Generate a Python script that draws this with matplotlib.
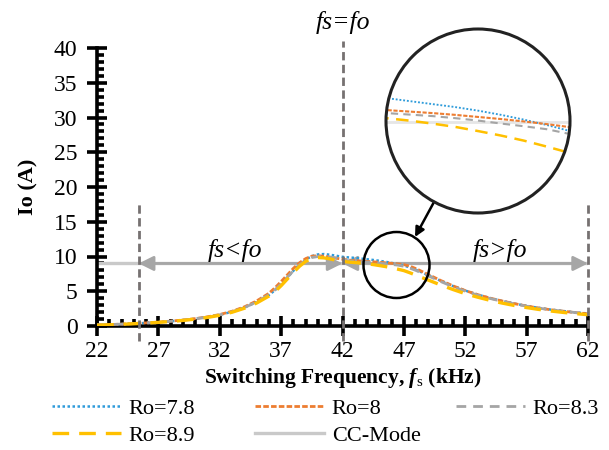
import matplotlib
matplotlib.use("Agg")
import matplotlib.pyplot as plt
from matplotlib.patches import Circle
from matplotlib.lines import Line2D
from matplotlib.ticker import MultipleLocator

plt.rcParams["font.family"] = ["Liberation Serif", "DejaVu Serif"]
plt.rcParams["mathtext.fontset"] = "custom"
plt.rcParams["mathtext.rm"] = "Liberation Serif"
plt.rcParams["mathtext.it"] = "Liberation Serif:italic"
plt.rcParams["mathtext.bf"] = "Liberation Serif:bold"
plt.rcParams["mathtext.bfit"] = "Liberation Serif:italic:bold"

# Switching frequency (kHz)
freq = [22, 23, 24, 25, 26, 27, 28, 29, 30, 31, 32, 33, 34, 35,
        36, 36.5, 37, 37.5, 38, 38.5, 39, 39.5, 40, 40.5, 41, 41.5,
        42, 42.5, 43, 43.5, 44, 44.5, 45, 45.5, 46, 46.5, 47, 47.5, 48,
        49, 50, 51, 52, 53, 54, 55, 56, 57, 58, 59, 60, 61, 62]

# Output current Io (A) for each load resistance
io_ro78 = [0.15, 0.2, 0.27, 0.35, 0.44, 0.55, 0.68, 0.84, 1.03, 1.28, 1.6, 2.05, 2.65, 3.45,
           4.45, 5.15, 6.0, 6.95, 7.95, 8.85, 9.55, 10.05, 10.3, 10.35, 10.25, 10.1,
           9.95, 9.87, 9.8, 9.7, 9.6, 9.5, 9.38, 9.24, 9.08, 8.9, 8.7, 8.42, 8.08,
           7.3, 6.5, 5.75, 5.1, 4.52, 4.03, 3.6, 3.22, 2.9, 2.6, 2.35, 2.15, 1.95, 1.8]
io_ro8 = [0.15, 0.2, 0.27, 0.35, 0.45, 0.56, 0.7, 0.86, 1.06, 1.32, 1.65, 2.12, 2.75, 3.6,
          4.7, 5.5, 6.4, 7.35, 8.3, 9.1, 9.7, 10.05, 10.1, 10.05, 9.9, 9.75,
          9.6, 9.5, 9.4, 9.35, 9.3, 9.24, 9.17, 9.1, 9.02, 8.93, 8.83, 8.6, 8.25,
          7.4, 6.55, 5.78, 5.1, 4.52, 4.02, 3.6, 3.22, 2.88, 2.58, 2.33, 2.12, 1.92, 1.75]
io_ro83 = [0.15, 0.2, 0.27, 0.35, 0.44, 0.55, 0.68, 0.84, 1.03, 1.28, 1.6, 2.05, 2.65, 3.45,
           4.5, 5.2, 6.05, 7.0, 7.95, 8.8, 9.45, 9.85, 10.0, 9.98, 9.9, 9.78,
           9.5, 9.4, 9.3, 9.25, 9.2, 9.13, 9.05, 8.95, 8.86, 8.76, 8.6, 8.32, 7.98,
           7.2, 6.4, 5.65, 5.0, 4.45, 3.97, 3.55, 3.18, 2.85, 2.57, 2.32, 2.12, 1.93, 1.77]
io_ro89 = [0.12, 0.17, 0.24, 0.32, 0.41, 0.52, 0.65, 0.8, 0.99, 1.23, 1.54, 1.98, 2.55, 3.3,
           4.3, 4.95, 5.8, 6.75, 7.7, 8.6, 9.3, 9.7, 9.85, 9.8, 9.65, 9.45,
           9.3, 9.2, 9.13, 9.05, 8.95, 8.84, 8.7, 8.55, 8.38, 8.18, 7.97, 7.65, 7.3,
           6.6, 5.9, 5.25, 4.65, 4.15, 3.7, 3.3, 2.95, 2.65, 2.38, 2.15, 1.95, 1.78, 1.62]

cc_level = 9.0          # constant-current mode reference (A)
f_res = 42              # resonant frequency fo (kHz)
f_low = 25.4            # lower bound of the operating range (kHz)
f_high = 62             # upper bound of the operating range (kHz)

labels = ["Ro=7.8", "Ro=8", "Ro=8.3", "Ro=8.9", "CC-Mode"]
series = [io_ro78, io_ro8, io_ro83, io_ro89]
styles = [
    dict(color="#2E9BDA", lw=1.8, dashes=(1.0, 1.0)),
    dict(color="#ED7D31", lw=2.0, dashes=(2.0, 0.8)),
    dict(color="#A5A5A5", lw=2.0, dashes=(3.5, 2.5)),
    dict(color="#FFC000", lw=2.4, dashes=(5.0, 3.0)),
]
cc_style = dict(color="#C9C9C9", lw=2.4)
vline_color = "#767171"
arrow_color = "#A6A6A6"

W, H = 609, 450
fig = plt.figure(figsize=(W / 100, H / 100), dpi=100)
ax = fig.add_axes([97 / W, 1 - 326 / H, (588 - 97) / W, (326 - 48) / H])

# CC-mode reference line
ax.plot([freq[0], freq[-1]], [cc_level, cc_level], zorder=2, **cc_style)

# Operating region arrows
arrow_kw = dict(arrowstyle="<|-|>", color=arrow_color, lw=2.0,
                mutation_scale=22, shrinkA=0, shrinkB=0)
ax.annotate("", xy=(f_low, cc_level), xytext=(f_res, cc_level),
            arrowprops=arrow_kw, zorder=3)
ax.annotate("", xy=(f_high, cc_level), xytext=(f_res, cc_level),
            arrowprops=arrow_kw, zorder=3)

# Current curves
for y, st in zip(series, styles):
    ax.plot(freq, y, zorder=4, **st)

# Boundary / resonance markers
vkw = dict(color=vline_color, lw=2.0, dashes=(3.0, 1.6), clip_on=False, zorder=5)
ax.plot([f_low, f_low], [-2.2, 17.7], **vkw)
ax.plot([f_high, f_high], [-2.2, 17.7], **vkw)
ax.plot([f_res, f_res], [-2.2, 41.0], **vkw)

ax.text(f_res, 43.6, "fs=fo", style="italic", fontsize=18.5, ha="center", va="center",
        clip_on=False)
ax.text(33.2, 10.8, "fs<fo", style="italic", fontsize=18.5, ha="center", va="center")
ax.text(54.8, 10.8, "fs>fo", style="italic", fontsize=18.5, ha="center", va="center")

ax.set_xlim(22, 62)
ax.set_ylim(0, 40)
ax.set_xticks(range(22, 63, 5))
ax.set_yticks(range(0, 41, 5))
ax.xaxis.set_minor_locator(MultipleLocator(1))
ax.yaxis.set_minor_locator(MultipleLocator(1))
ax.tick_params(which="major", direction="inout", length=14, width=2.6,
               labelsize=17)
ax.tick_params(axis="x", which="major", pad=4)
ax.tick_params(axis="y", which="major", pad=7)
ax.tick_params(which="minor", direction="in", length=5, width=2.6)
for side in ("top", "right"):
    ax.spines[side].set_visible(False)
for side in ("left", "bottom"):
    ax.spines[side].set_linewidth(2.6)
ax.set_ylabel("Io (A)", fontsize=16, fontweight="bold", labelpad=11)
ax.set_xlabel(r"Switching Frequency, $\mathbfit{f}_{\mathrm{s}}$ (kHz)",
              fontsize=15.5, fontweight="bold", labelpad=3)

# Magnified view of the region just above resonance
circ_r = 33 / 100
small = Circle((396.5 / 100, (H - 265) / 100), circ_r, transform=fig.dpi_scale_trans,
               fill=False, lw=1.8, color="black", zorder=10)
fig.add_artist(small)
big_cx, big_cy, big_r = 478, 121, 92
ax_in = fig.add_axes([(big_cx - big_r) / W, (H - big_cy - big_r) / H,
                      2 * big_r / W, 2 * big_r / H])
ax_in.set_xlim(43, 47)
ax_in.set_ylim(5.97, 12.1)
ax_in.axis("off")
clip = Circle((0.5, 0.5), 0.5, transform=ax_in.transAxes)
ln = ax_in.plot([freq[0], freq[-1]], [cc_level, cc_level], color="#E6E6E6", lw=2.0)[0]
ln.set_clip_path(clip)
for y, st in zip(series, styles):
    st2 = dict(st)
    st2["lw"] = st["lw"] * 0.75
    ln = ax_in.plot(freq, y, **st2)[0]
    ln.set_clip_path(clip)
big = Circle((big_cx / 100, (H - big_cy) / 100), big_r / 100, transform=fig.dpi_scale_trans,
             fill=False, lw=2.2, color="#222222", zorder=10)
fig.add_artist(big)
ax.annotate("", xy=(415 / W, 1 - 237 / H), xytext=(434 / W, 1 - 202 / H),
            xycoords="figure fraction", textcoords="figure fraction",
            arrowprops=dict(arrowstyle="-|>", color="black", lw=1.8,
                            mutation_scale=14, shrinkA=0, shrinkB=0))

# Legend laid out in three equally spaced columns
handles = [Line2D([], [], **st) for st in styles] + [Line2D([], [], **cc_style)]
columns = [[0, 3], [1, 4], [2]]
col_x = [52, 255, 456]
for idx, x0 in zip(columns, col_x):
    leg = fig.legend([handles[i] for i in idx], [labels[i] for i in idx],
                     loc="upper left", bbox_to_anchor=(x0 / W, 1 - 398 / H),
                     frameon=False, fontsize=16, handlelength=3.1,
                     handletextpad=0.35, borderaxespad=0, borderpad=0,
                     labelspacing=0.3)

fig.savefig("out.png", dpi=100)
